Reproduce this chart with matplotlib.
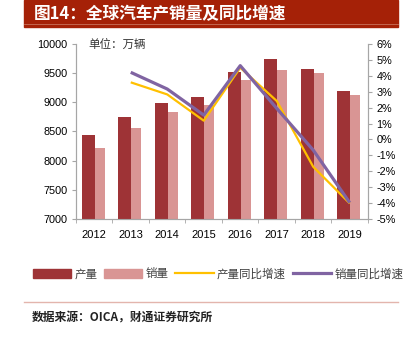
import matplotlib
matplotlib.use("Agg")
import matplotlib.pyplot as plt
from matplotlib.patches import Rectangle
from matplotlib.lines import Line2D
import numpy as np

plt.rcParams['font.family'] = ['Liberation Sans', 'DejaVu Sans']
CJK = ['Noto Sans CJK SC', 'DejaVu Sans']

years = ['2012', '2013', '2014', '2015', '2016', '2017', '2018', '2019']
production = [8440, 8743, 8994, 9097, 9514, 9737, 9571, 9194]
sales = [8212, 8555, 8829, 8954, 9377, 9554, 9497, 9120]
line_years = ['2013', '2014', '2015', '2016', '2017', '2018', '2019']
prod_growth = [3.59, 2.83, 1.18, 4.51, 2.42, -1.72, -4.02]
sales_growth = [4.22, 3.17, 1.53, 4.64, 1.95, -0.67, -3.98]

c_dark = '#9E3336'
c_light = '#D99594'
c_yellow = '#FFC000'
c_purple = '#8064A2'
c_spine = '#A6A6A6'

fig = plt.figure(figsize=(4.06, 3.37), dpi=100)
ax = fig.add_axes([76/406, 1-219/337, (368-76)/406, (219-44)/337])
ax2 = ax.twinx()

x = np.arange(len(years))
w = 0.356
ax.bar(x + 0.108, sales, width=w, color=c_light, zorder=2, label='销量')
ax.bar(x - 0.158, production, width=w, color=c_dark, zorder=3, label='产量')

lx = [years.index(y) for y in line_years]
ax2.plot(lx, prod_growth, color=c_yellow, lw=1.6, label='产量同比增速', solid_capstyle='butt')
ax2.plot(lx, sales_growth, color=c_purple, lw=2.3, label='销量同比增速', solid_capstyle='butt')

ax.set_xlim(-0.5, len(years) - 0.5)
ax.set_ylim(7000, 10000)
ax.set_yticks(np.arange(7000, 10001, 500))
ax2.set_ylim(-5, 6)
ax2.set_yticks(np.arange(-5, 7, 1))
ax2.set_yticklabels([f'{v}%' for v in range(-5, 7)])

ax.set_xticks(x)
ax.set_xticklabels(years)
ax.set_xticks(np.arange(-0.5, len(years), 1), minor=True)
ax.tick_params(axis='x', which='major', length=0, pad=8, labelsize=8)
ax.tick_params(axis='x', which='minor', length=3, color=c_spine, direction='out')
ax.tick_params(axis='y', length=3, color=c_spine, labelsize=7.8, pad=3)
ax2.tick_params(axis='y', length=3, color=c_spine, labelsize=7.8, pad=3)

for a in (ax, ax2):
    a.spines['top'].set_visible(False)
    for s in ('left', 'right', 'bottom'):
        a.spines[s].set_color(c_spine)
        a.spines[s].set_linewidth(0.8)

ax.set_zorder(ax2.get_zorder() - 1)
ax2.patch.set_visible(False)
ax.patch.set_visible(False)

ax.text(88/406, 1-44/337, '单位：万辆', transform=fig.transFigure, family=CJK,
        fontsize=8.3, va='center', ha='left', color='#333333')

# title bar
fig.patches.append(Rectangle((24/406, 1-27/337), (398-24)/406, 27/337,
                             transform=fig.transFigure, color='#A52107', zorder=0))
fig.lines.append(Line2D([24/406, 398/406], [1-24/337, 1-24/337], transform=fig.transFigure,
                        color='#C8705A', lw=0.6))
fig.text(34/406, 1-14/337, '图14：全球汽车产销量及同比增速', family=CJK, fontsize=12,
         fontweight='bold', color='white', va='center', ha='left')

# legend
h1 = Rectangle((0, 0), 1, 1, color=c_dark)
h2 = Rectangle((0, 0), 1, 1, color=c_light)
h3 = Line2D([], [], color=c_yellow, lw=1.6)
h4 = Line2D([], [], color=c_purple, lw=2.3)
leg = fig.legend([h1, h2, h3, h4], ['产量', '销量', '产量同比增速', '销量同比增速'],
                 loc='center', bbox_to_anchor=(218/406, 1-274/337), ncol=4, frameon=False,
                 prop={'family': CJK, 'size': 8.3}, handlelength=3.3, handleheight=0.8,
                 handletextpad=0.3, columnspacing=0.6)
for t in leg.get_texts():
    t.set_color('#404040')

# separator and source
fig.lines.append(Line2D([24/406, 398/406], [1-302/337, 1-302/337], transform=fig.transFigure,
                        color='#E3B5AD', lw=1.0))
fig.text(32/406, 1-318/337, '数据来源：OICA，财通证券研究所', family=CJK, fontsize=8.5,
         fontweight='bold', color='#222222', va='center', ha='left')

fig.savefig('out.png', dpi=100)
